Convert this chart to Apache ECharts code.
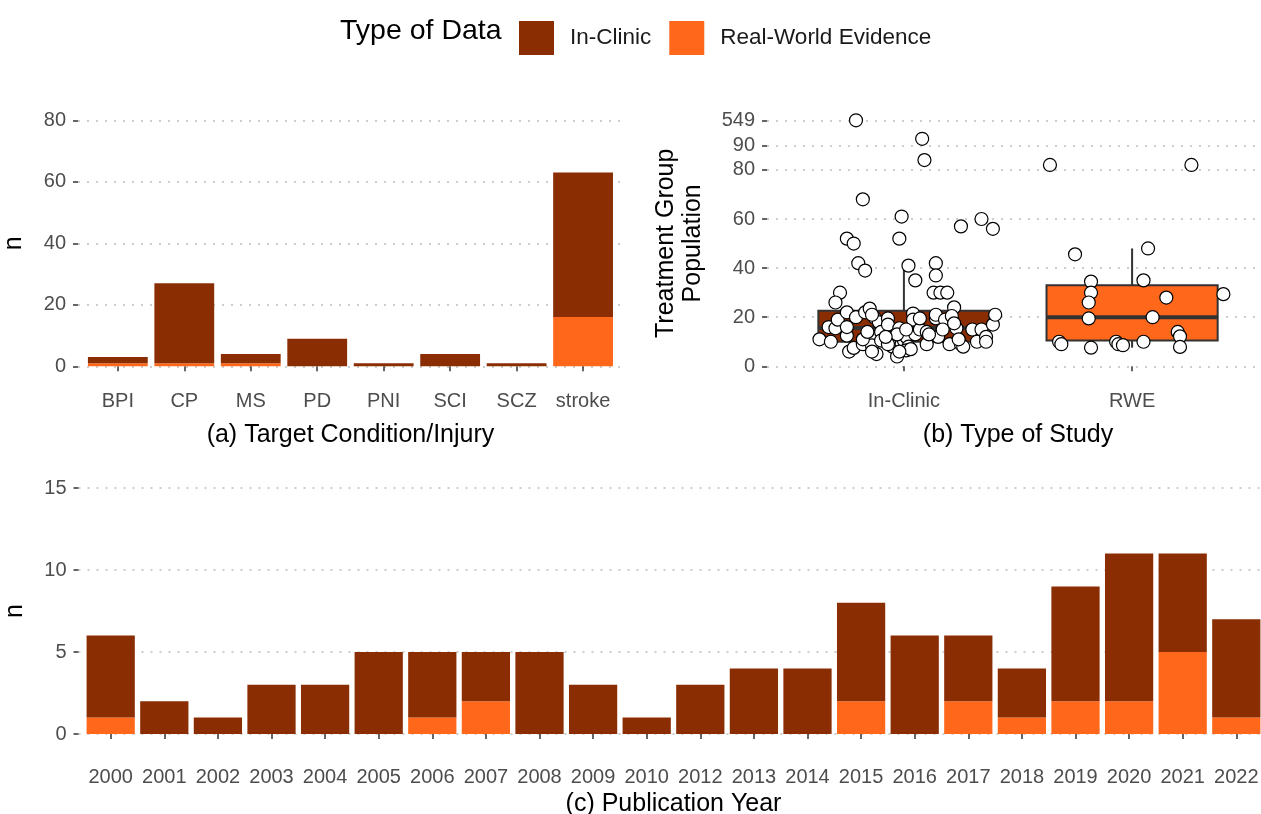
<!DOCTYPE html>
<html><head><meta charset="utf-8">
<script src="https://cdn.jsdelivr.net/npm/echarts@6/dist/echarts.min.js"></script>
<style>html,body{margin:0;padding:0;background:#fff}#c{width:1261px;height:814px}</style>
</head><body><div id="c"></div>
<script>
// ---------- data ----------
const conditions   = ['BPI','CP','MS','PD','PNI','SCI','SCZ','stroke'];
const condInClinic = [2, 26, 3, 9, 1, 4, 1, 47];
const condRWE      = [1, 1, 1, 0, 0, 0, 0, 16];
const countTicks   = [0, 20, 40, 60, 80];

const years        = ['2000','2001','2002','2003','2004','2005','2006','2007','2008','2009','2010','2012','2013','2014','2015','2016','2017','2018','2019','2020','2021','2022'];
const yearInClinic = [5, 2, 1, 3, 3, 5, 4, 3, 5, 3, 1, 3, 4, 4, 6, 6, 4, 3, 7, 9, 6, 6];
const yearRWE      = [1, 0, 0, 0, 0, 0, 1, 2, 0, 0, 0, 0, 0, 0, 2, 0, 2, 1, 2, 2, 5, 1];
const yearTicks    = [0, 5, 10, 15];

const studyTypes = ['In-Clinic', 'RWE'];
const popTicks   = [0, 20, 40, 60, 80, 90, 549];
// box stats: [lower whisker, Q1, median, Q3, upper whisker]
const boxStats = [[4, 10, 15.6, 22.6, 41], [7.6, 10.5, 20, 33, 48]];
// jittered points: horizontal jitter offset (category units) and value
const icOffset = [-0.21,0.08,0.09,-0.18,-0.01,0.34,0.39,0.25,-0.25,-0.22,-0.02,-0.20,-0.17,0.02,0.05,0.14,0.14,0.13,0.16,0.19,-0.28,-0.30,0.22,
  -0.37,-0.32,-0.33,-0.30,-0.29,-0.25,-0.25,-0.24,-0.22,-0.21,-0.18,-0.17,-0.15,-0.14,-0.14,-0.12,-0.13,-0.11,-0.10,-0.10,-0.07,-0.07,-0.05,-0.04,-0.04,-0.03,-0.02,-0.01,0.00,0.01,0.02,0.04,0.04,0.05,0.07,0.07,0.10,0.14,0.14,0.15,0.18,0.17,0.21,0.20,0.23,0.25,0.26,0.30,0.32,0.34,0.36,0.36,0.39,0.40,
  -0.14,-0.25,-0.03,-0.18,-0.14,-0.07,0.01,0.22,0.10,0.24,0.01,0.03,-0.02,0.11,-0.16,-0.08];
const icValue  = [549,210,84,68,61,60,56,57,52,50,52,42,39,41,35,42,37,30,30,30,30,26,24,
  11,10,16,15.5,19,22,12.5,6,7.5,20,9,22,23.5,12,8.5,5,20,18,14,10.5,19.5,17,8,12,10,4,15.5,9,10.5,12,8,21.5,19,13,15,19.5,9,19.5,21,12,19,15,20.5,9,15.5,9,8,15,10,15,12,10,17,21,
  21,16,13,11,6,9,15,17.5,14,11,6.5,7,6,13,14,12];
const rweOffset = [-0.36,0.26,-0.25,0.07,-0.18,0.05,-0.18,-0.19,0.15,0.40,-0.19,0.09,-0.32,-0.31,-0.18,-0.07,-0.06,-0.04,0.05,0.20,0.21,0.21];
const rweValue  = [82,82,45.6,48,34.5,35,30,26,28,29.4,19.5,20,10,9,7.6,10,9,8.6,10,14,12.2,7.9];

// ---------- styling ----------
const C_IN = '#8B2D02', C_RWE = '#FF671A';
const FONT = '"Liberation Sans", Arial, sans-serif';
const TICK_COL = '#4D4D4D';
// y scale of panel (b): linear up to 90, squished above
function squish(v) { return v <= 90 ? v : 90 + (v - 90) * 10.2 / 459; }

const gridLine = { show: true, lineStyle: { type: [2, 7], color: '#BDBDBD', width: 1.6 } };
const tickStyle = { length: 5, lineStyle: { color: '#333', width: 1.5 } };

function frameY(gridIndex, min, max, ticks, fmt, name, nameGap) {
  return {
    type: 'value', gridIndex, min, max,
    axisLine: { show: false },
    axisTick: Object.assign({ show: true, customValues: ticks }, tickStyle),
    axisLabel: { customValues: ticks, formatter: fmt, color: TICK_COL, fontSize: 20, fontFamily: FONT, margin: 12 },
    splitLine: gridLine,
    name, nameLocation: 'middle', nameGap, nameRotate: 90,
    nameTextStyle: { fontSize: 25, color: '#000', fontFamily: FONT, lineHeight: 27 }
  };
}
function hiddenAxis(gridIndex, min, max) {
  return { type: 'value', gridIndex, min, max, show: false, splitLine: { show: false } };
}
function catX(gridIndex, data, name, margin, nameGap) {
  return {
    type: 'category', gridIndex, data,
    axisLine: { show: false },
    axisTick: Object.assign({ show: true, alignWithLabel: true }, tickStyle),
    axisLabel: { color: TICK_COL, fontSize: 20, fontFamily: FONT, margin, interval: 0 },
    splitLine: { show: false },
    name, nameLocation: 'middle', nameGap,
    nameTextStyle: { fontSize: 25, color: '#000', fontFamily: FONT }
  };
}

const icPoints  = icOffset.map((o, i) => [1 + o, squish(icValue[i])]);
const rwePoints = rweOffset.map((o, i) => [2 + o, squish(rweValue[i])]);
const popTickPos = popTicks.map(squish);

const chart = echarts.init(document.getElementById('c'), null, { renderer: 'canvas' });
chart.setOption({
  backgroundColor: '#fff',
  animation: false,
  textStyle: { fontFamily: FONT },
  legend: {
    data: ['In-Clinic', 'Real-World Evidence'],
    left: 514, top: 16, itemWidth: 35, itemHeight: 34, itemGap: 18, icon: 'rect',
    selectedMode: false,
    textStyle: { fontSize: 22.5, color: '#1A1A1A', fontFamily: FONT, padding: [0, 0, 0, 11] }
  },
  graphic: [{
    type: 'text', left: 340, top: 17,
    style: { text: 'Type of Data', fontSize: 28.5, fill: '#000', fontFamily: FONT }
  }],
  grid: [
    { left: 78,   top: 108,   width: 545,    height: 270.6, outerBoundsMode: 'none' },
    { left: 84.6, top: 108,   width: 531.7,  height: 270.6, outerBoundsMode: 'none' },
    { left: 767,  top: 108,   width: 502,    height: 270.6, outerBoundsMode: 'none' },
    { left: 78.5, top: 475.7, width: 1190,   height: 270.6, outerBoundsMode: 'none' },
    { left: 83.9, top: 475.7, width: 1179.2, height: 270.6, outerBoundsMode: 'none' }
  ],
  xAxis: [
    hiddenAxis(0, 0, 1),
    catX(1, conditions, '(a) Target Condition/Injury', 13, 44),
    {
      type: 'value', gridIndex: 2, min: 0.4, max: 2.6,
      axisLine: { show: false },
      axisTick: Object.assign({ show: true, customValues: [1, 2] }, tickStyle),
      axisLabel: { customValues: [1, 2], formatter: v => studyTypes[Math.round(v) - 1],
                   color: TICK_COL, fontSize: 20, fontFamily: FONT, margin: 13 },
      splitLine: { show: false },
      name: '(b) Type of Study', nameLocation: 'middle', nameGap: 44,
      nameTextStyle: { fontSize: 25, color: '#000', fontFamily: FONT }
    },
    hiddenAxis(3, 0, 1),
    catX(4, years, '(c) Publication Year', 21, 45.5)
  ],
  yAxis: [
    frameY(0, -4, 84, countTicks, v => String(v), 'n', 50),
    hiddenAxis(1, -4, 84),
    frameY(2, -5, 105.2, popTickPos,
      v => { let best = 0; popTickPos.forEach((p, i) => { if (Math.abs(p - v) < Math.abs(popTickPos[best] - v)) best = i; }); return String(popTicks[best]); },
      'Treatment Group\nPopulation', 60),
    frameY(3, -0.75, 15.75, yearTicks, v => String(v), 'n', 50),
    hiddenAxis(4, -0.75, 15.75)
  ],
  series: [
    { name: 'Real-World Evidence', type: 'bar', xAxisIndex: 1, yAxisIndex: 1, stack: 'a', data: condRWE, barWidth: '90%', itemStyle: { color: C_RWE } },
    { name: 'In-Clinic', type: 'bar', xAxisIndex: 1, yAxisIndex: 1, stack: 'a', data: condInClinic, barWidth: '90%', itemStyle: { color: C_IN } },
    { name: 'Real-World Evidence', type: 'bar', xAxisIndex: 4, yAxisIndex: 4, stack: 'c', data: yearRWE, barWidth: '90%', itemStyle: { color: C_RWE } },
    { name: 'In-Clinic', type: 'bar', xAxisIndex: 4, yAxisIndex: 4, stack: 'c', data: yearInClinic, barWidth: '90%', itemStyle: { color: C_IN } },
    {
      name: 'box', type: 'custom', xAxisIndex: 2, yAxisIndex: 2, z: 2,
      data: boxStats.map((s, i) => [i + 1].concat(s.map(squish))),
      renderItem(params, api) {
        const x = api.value(0);
        const mn = api.value(1), q1 = api.value(2), md = api.value(3), q3 = api.value(4), mx = api.value(5);
        const hw = 0.375;
        const tl = api.coord([x - hw, q3]), br = api.coord([x + hw, q1]);
        const top = api.coord([x, mx]), bot = api.coord([x, mn]);
        const q3p = api.coord([x, q3]), q1p = api.coord([x, q1]);
        const ml = api.coord([x - hw, md]), mr = api.coord([x + hw, md]);
        const fill = params.dataIndex === 0 ? C_IN : C_RWE;
        return { type: 'group', children: [
          { type: 'line', shape: { x1: top[0], y1: top[1], x2: q3p[0], y2: q3p[1] }, style: { stroke: '#333', lineWidth: 2 } },
          { type: 'line', shape: { x1: bot[0], y1: bot[1], x2: q1p[0], y2: q1p[1] }, style: { stroke: '#333', lineWidth: 2 } },
          { type: 'rect', shape: { x: tl[0], y: tl[1], width: br[0] - tl[0], height: br[1] - tl[1] }, style: { fill, stroke: '#333', lineWidth: 2 } },
          { type: 'line', shape: { x1: ml[0], y1: ml[1], x2: mr[0], y2: mr[1] }, style: { stroke: '#333', lineWidth: 4 } }
        ]};
      }
    },
    { name: 'pts-ic', type: 'scatter', xAxisIndex: 2, yAxisIndex: 2, z: 3, data: icPoints, symbolSize: 13,
      itemStyle: { color: '#fff', borderColor: '#000', borderWidth: 1.2, opacity: 1 } },
    { name: 'pts-rwe', type: 'scatter', xAxisIndex: 2, yAxisIndex: 2, z: 3, data: rwePoints, symbolSize: 13,
      itemStyle: { color: '#fff', borderColor: '#000', borderWidth: 1.2, opacity: 1 } }
  ]
});
</script></body></html>
